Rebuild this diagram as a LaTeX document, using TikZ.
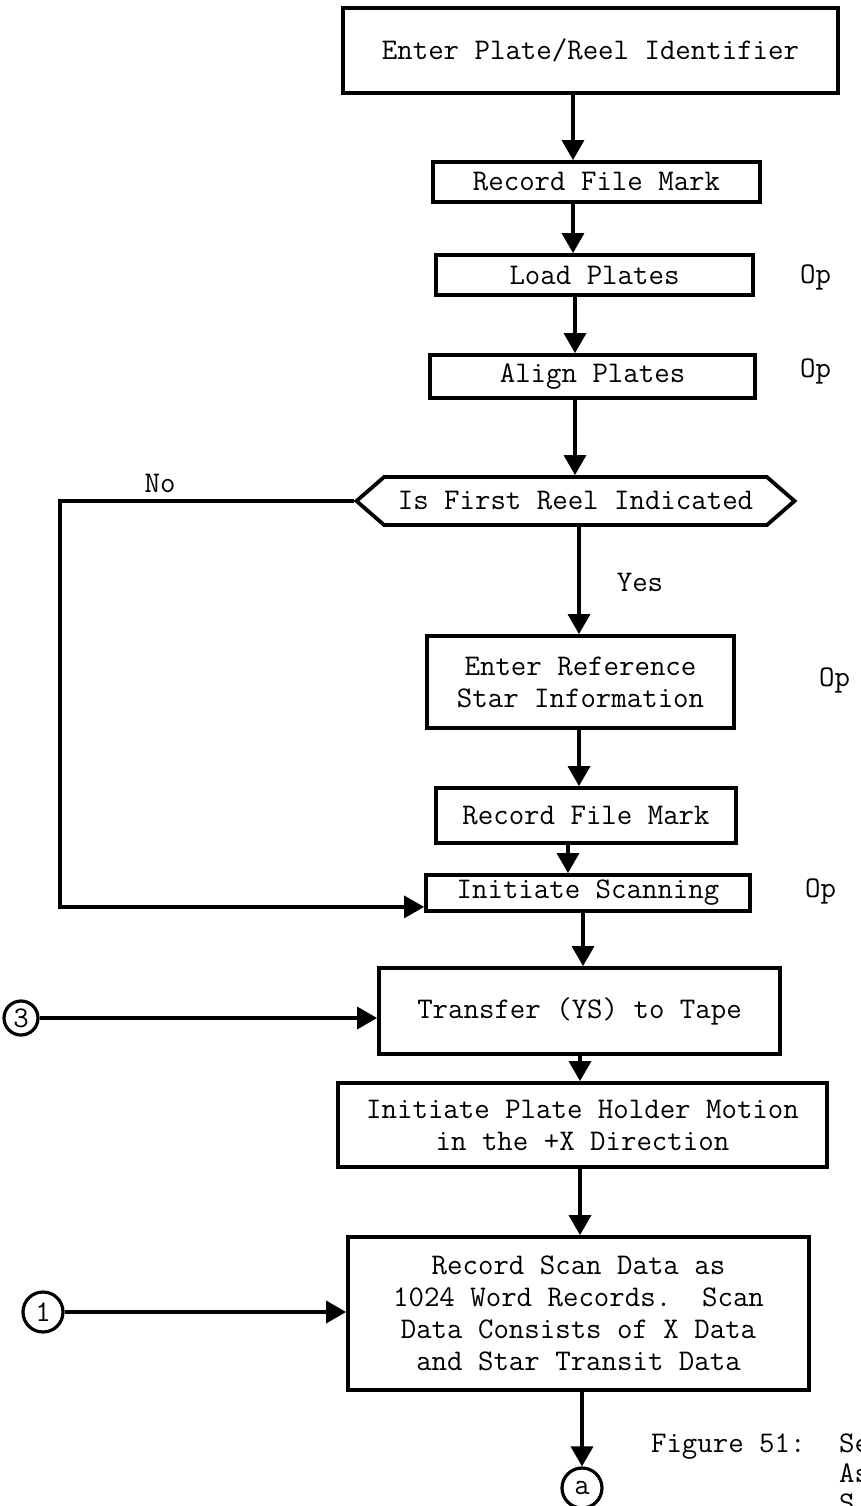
\documentclass[tikz,border=0pt]{standalone}
\usetikzlibrary{arrows.meta,shapes.symbols}
\begin{document}
\begin{tikzpicture}[x=0.5pt,y=-0.5pt,
  box/.style={draw,line width=1.9pt,font=\ttfamily\fontsize{15}{16}\selectfont,align=center,inner sep=0pt},
  lbl/.style={font=\ttfamily\fontsize{15}{16}\selectfont},
  arr/.style={line width=1.7pt,-{Triangle[length=10pt,width=11pt]}},
  conn/.style={draw,circle,line width=1.6pt,inner sep=0pt,font=\ttfamily\fontsize{15}{15}\selectfont}]
\useasboundingbox (0,0) rectangle (861,1506);

\node[box,minimum width=247.5pt,minimum height=42.5pt] (ident) at (590.5,50.5) {Enter Plate/Reel Identifier};
\node[box,minimum width=163.5pt,minimum height=20pt] (mark) at (596.5,182) {Record File Mark};
\node[box,minimum width=158.5pt,minimum height=20pt] (load) at (594.5,275) {Load Plates};
\node[box,minimum width=162.5pt,minimum height=21.5pt] (align) at (592.5,376.5) {Align Plates};
\node[box,shape=signal,signal to=west and east,signal pointer angle=82,
  minimum width=219pt,minimum height=24pt] (first) at (575.5,501) {Is First Reel Indicated};
\node[box,minimum width=153.5pt,minimum height=46pt] (refstar) at (580.5,682) {Enter Reference\\Star Information};
\node[box,minimum width=150pt,minimum height=27.5pt] (mark2) at (586,815.5) {Record File Mark};
\node[box,minimum width=162pt,minimum height=18pt] (scan) at (588,893) {Initiate Scanning};
\node[box,minimum width=200.5pt,minimum height=43pt] (ys) at (579.5,1011) {Transfer (YS) to Tape};
\node[box,minimum width=244.5pt,minimum height=42pt] (motion) at (582.5,1125) {Initiate Plate Holder Motion\\in the +X Direction};
\node[box,minimum width=230.5pt,minimum height=76.5pt] (data) at (578.5,1313.5) {Record Scan Data as\\1024 Word Records.\ \ Scan\\Data Consists of X Data\\and Star Transit Data};

% off-page connectors
\node[conn,minimum size=17pt] (c3) at (21,1018) {3};
\node[conn,minimum size=20pt] (c1) at (43,1312) {1};
\node[conn,minimum size=20pt] (ca) at (582,1488) {a};

% side labels
\node[lbl,anchor=west] (opload) at (793,277) {Op};
\node[lbl,anchor=west] (opalign) at (793,371) {Op};
\node[lbl,anchor=west] (opref) at (812,680) {Op};
\node[lbl,anchor=west] (opscan) at (798,891) {Op};
\node[lbl] (no) at (160,483) {No};
\node[lbl] (yes) at (640,582) {Yes};

\draw[arr] (ident.south -| 573,0) -- (mark.north -| 573,0);
\draw[arr] (mark.south -| 573,0) -- (load.north -| 573,0);
\draw[arr] (load.south -| 575,0) -- (align.north -| 575,0);
\draw[arr] (align.south -| 575,0) -- (first.north -| 575,0);
\draw[arr] (first.south -| 579,0) -- (refstar.north -| 579,0);
\draw[arr] (refstar.south -| 579,0) -- (mark2.north -| 579,0);
\draw[arr] (mark2.south -| 568,0) -- (scan.north -| 568,0);
\draw[arr] (scan.south -| 583,0) -- (ys.north -| 583,0);
\draw[arr] (ys.south -| 580,0) -- (motion.north -| 580,0);
\draw[arr] (motion.south -| 580,0) -- (data.north -| 580,0);
\draw[arr] (data.south -| ca) -- (ca.north);

\coordinate (nobend) at (60,501);
\draw[arr] (first.west) -- (nobend) |- ([yshift=3pt]scan.south west);
\draw[arr] (c3) -- (c3 -| ys.west);
\draw[arr] (c1) -- (c1 -| data.west);

% caption, cut by the page edge
\node[lbl,anchor=base west] (fig) at (644,1452) {Figure 51:};
\node[lbl,anchor=base west] (cap1) at (832,1452) {Se};
\node[lbl,anchor=base west] (cap2) at (832,1482) {As};
\node[lbl,anchor=base west] (cap3) at (832,1512) {S};
\end{tikzpicture}
\end{document}
